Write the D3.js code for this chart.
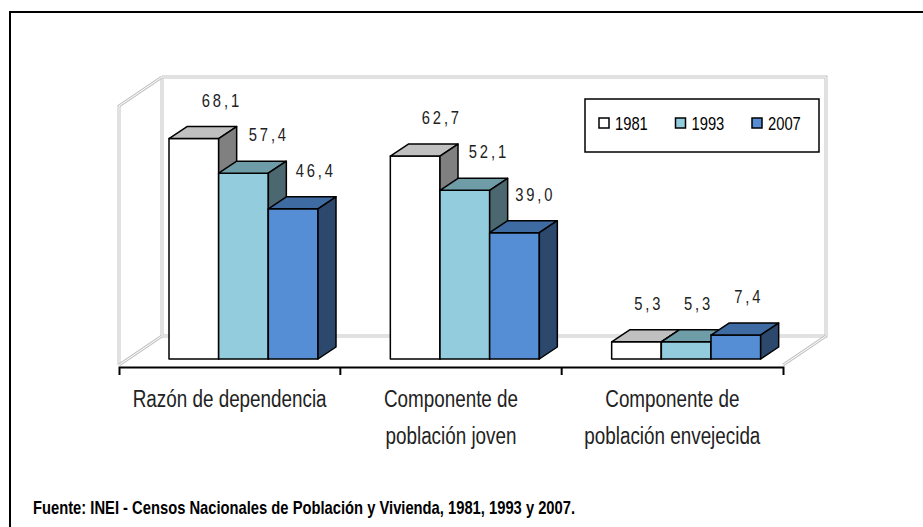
<!DOCTYPE html>
<html>
<head>
<meta charset="utf-8">
<script src="https://cdnjs.cloudflare.com/ajax/libs/d3/7.8.5/d3.min.js"></script>
<style>
    body { margin: 0; background: #fff; }
    #chart svg { display: block; }
</style>
</head>
<body>
<div id="chart"></div>
<script>
// datos
const categories = ["Razón de dependencia", "Componente de\npoblación joven", "Componente de\npoblación envejecida"];
const years = ["1981", "1993", "2007"];
const values1981 = [68.1, 62.7, 5.3];
const values1993 = [57.4, 52.1, 5.3];
const values2007 = [46.4, 39.0, 7.4];
const yDomain = [0, 80];
const sourceText = "Fuente: INEI - Censos Nacionales de Población y Vivienda, 1981, 1993 y 2007.";

const seriesValues = [values1981, values1993, values2007];
const colors = [
    { front: "#ffffff", top: "#c0c0c0", side: "#808080" },
    { front: "#93cddd", top: "#6e9ca7", side: "#4b676f" },
    { front: "#558ed5", top: "#3e6ba1", side: "#2c486d" }
];
// no hay Arial Narrow: se comprime Liberation Sans en horizontal
const font = "'Liberation Sans', Arial, sans-serif";
const squeeze = 0.82;

function narrowAt(x, y) {
    return `translate(${x}, ${y}) scale(${squeeze}, 1)`;
}

function createChart() {
    const width = 923, height = 527;
    const wall = { dx: 43, dy: -29 };   // profundidad de paredes
    const plane = { dx: 9, dy: -6 };    // plano frontal de las barras
    const depth = { dx: 18, dy: -12 };  // profundidad de cada barra

    d3.select("#chart").html("");
    const svg = d3.select("#chart").append("svg")
        .attr("width", width)
        .attr("height", height);

    // marco exterior
    svg.append("rect")
        .attr("x", 10).attr("y", 12)
        .attr("width", 940).attr("height", 540)
        .attr("fill", "none").attr("stroke", "#000").attr("stroke-width", 2);

    const x = d3.scaleBand().domain(categories).range([119, 783]);
    const xIn = d3.scaleBand().domain(years).range([41, 190]);
    const y = d3.scaleLinear().domain(yDomain).range([365, 106]);

    const x0 = x.range()[0], x1 = x.range()[1];
    const yTop = y(yDomain[1]), yBase = y(0);

    // paredes y piso (linea doble gris)
    const wallPaths = [
        [[x0 + wall.dx, yTop + wall.dy], [x1 + wall.dx, yTop + wall.dy], [x1 + wall.dx, yBase + wall.dy], [x0 + wall.dx, yBase + wall.dy], [x0 + wall.dx, yTop + wall.dy]],
        [[x0, yBase], [x0, yTop], [x0 + wall.dx, yTop + wall.dy]],
        [[x0, yBase], [x0 + wall.dx, yBase + wall.dy]],
        [[x1, yBase], [x1 + wall.dx, yBase + wall.dy]]
    ];
    const line = d3.line();
    const walls = svg.append("g").attr("fill", "none");
    wallPaths.forEach(p => {
        walls.append("path").attr("d", line(p)).attr("stroke", "#c4c4c4").attr("stroke-width", 3);
        walls.append("path").attr("d", line(p)).attr("stroke", "#fff").attr("stroke-width", 1);
    });

    // barras 3D
    const bars = svg.append("g")
        .attr("stroke", "#000")
        .attr("stroke-width", 1.5)
        .attr("stroke-linejoin", "round");
    const labels = svg.append("g")
        .attr("font-family", font)
        .attr("font-size", 18)
        .attr("letter-spacing", 3.5)
        .attr("fill", "#222")
        .attr("text-anchor", "middle");

    categories.forEach((cat, i) => {
        years.forEach((yr, j) => {
            const v = seriesValues[j][i];
            const bx = x(cat) + xIn(yr) + plane.dx;
            const bw = xIn.bandwidth();
            const top = y(v) + plane.dy;
            const bottom = yBase + plane.dy;
            const c = colors[j];

            bars.append("rect")
                .attr("x", bx).attr("y", top)
                .attr("width", bw).attr("height", bottom - top)
                .attr("fill", c.front);
            bars.append("path")
                .attr("d", line([[bx, top], [bx + depth.dx, top + depth.dy], [bx + bw + depth.dx, top + depth.dy], [bx + bw, top]]) + "Z")
                .attr("fill", c.top);
            bars.append("path")
                .attr("d", line([[bx + bw, top], [bx + bw + depth.dx, top + depth.dy], [bx + bw + depth.dx, bottom + depth.dy], [bx + bw, bottom]]) + "Z")
                .attr("fill", c.side);

            labels.append("text")
                .attr("transform", narrowAt(bx + bw / 2 + 11 + 0.25 * v, top - 32))
                .text(d3.format(".1f")(v).replace(".", ","));
        });
    });

    // eje de categorias
    const axis = svg.append("g")
        .attr("transform", `translate(0, ${yBase + 2})`)
        .call(d3.axisBottom(x).tickSize(0).tickSizeOuter(8).tickFormat(""));
    axis.select(".domain").attr("stroke-width", 2);
    axis.selectAll(".boundary")
        .data(categories.slice(1))
        .enter()
        .append("line")
        .attr("x1", d => x(d)).attr("x2", d => x(d))
        .attr("y1", 0).attr("y2", 8)
        .attr("stroke", "#000").attr("stroke-width", 2);

    const catText = svg.append("g")
        .attr("font-family", font)
        .attr("font-size", 23)
        .attr("fill", "#222")
        .attr("text-anchor", "middle")
        .selectAll("text")
        .data(categories)
        .enter()
        .append("text")
        .attr("transform", d => narrowAt(x(d) + x.bandwidth() / 2, 407));
    catText.selectAll("tspan")
        .data(d => d.split("\n"))
        .enter()
        .append("tspan")
        .attr("x", 0)
        .attr("dy", (d, k) => k === 0 ? 0 : 37)
        .text(d => d);

    // leyenda
    const legend = svg.append("g").attr("transform", "translate(585, 99)");
    legend.append("rect")
        .attr("width", 234).attr("height", 53)
        .attr("fill", "#fff").attr("stroke", "#000").attr("stroke-width", 1.5);
    years.forEach((yr, j) => {
        const item = legend.append("g").attr("transform", `translate(${14 + j * 76.5}, 0)`);
        item.append("rect")
            .attr("x", 0).attr("y", 19)
            .attr("width", 10).attr("height", 10)
            .attr("fill", colors[j].front)
            .attr("stroke", "#000").attr("stroke-width", 1.5);
        item.append("text")
            .attr("transform", narrowAt(16, 31))
            .attr("font-family", font)
            .attr("font-size", 18)
            .attr("fill", "#000")
            .text(yr);
    });

    // fuente
    svg.append("text")
        .attr("transform", narrowAt(33, 514))
        .attr("font-family", font)
        .attr("font-size", 18)
        .attr("font-weight", "bold")
        .attr("fill", "#000")
        .text(sourceText);
}

createChart();
</script>
</body>
</html>
